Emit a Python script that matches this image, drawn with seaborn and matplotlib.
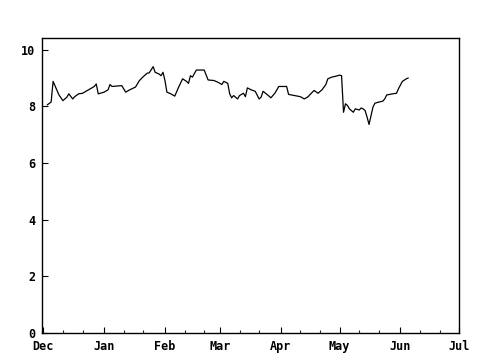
import matplotlib
matplotlib.use("Agg")
import matplotlib.pyplot as plt
import seaborn as sns
import pandas as pd

dates = [
    "2006-12-03", "2006-12-05", "2006-12-06", "2006-12-08", "2006-12-09", "2006-12-11",
    "2006-12-13", "2006-12-14", "2006-12-16", "2006-12-17", "2006-12-19", "2006-12-21",
    "2006-12-22", "2006-12-24", "2006-12-27", "2006-12-28", "2006-12-29",
    "2007-01-01", "2007-01-03", "2007-01-04", "2007-01-05", "2007-01-10", "2007-01-12",
    "2007-01-14", "2007-01-17", "2007-01-19", "2007-01-21", "2007-01-23", "2007-01-24",
    "2007-01-26", "2007-01-27", "2007-01-29", "2007-01-30", "2007-01-31",
    "2007-02-01", "2007-02-02", "2007-02-04", "2007-02-06", "2007-02-08", "2007-02-10",
    "2007-02-12", "2007-02-13", "2007-02-14", "2007-02-15", "2007-02-17", "2007-02-21",
    "2007-02-23", "2007-02-26", "2007-02-28",
    "2007-03-02", "2007-03-03", "2007-03-05", "2007-03-06", "2007-03-07", "2007-03-08",
    "2007-03-10", "2007-03-11", "2007-03-13", "2007-03-14", "2007-03-15", "2007-03-17",
    "2007-03-19", "2007-03-21", "2007-03-22", "2007-03-23", "2007-03-25", "2007-03-27",
    "2007-03-29", "2007-03-31",
    "2007-04-04", "2007-04-05", "2007-04-08", "2007-04-11", "2007-04-13", "2007-04-15",
    "2007-04-16", "2007-04-18", "2007-04-20", "2007-04-22", "2007-04-24", "2007-04-25",
    "2007-04-27", "2007-04-29",
    "2007-05-01", "2007-05-02", "2007-05-03", "2007-05-04", "2007-05-05", "2007-05-06",
    "2007-05-08", "2007-05-09", "2007-05-11", "2007-05-12", "2007-05-13", "2007-05-14",
    "2007-05-15", "2007-05-16", "2007-05-18", "2007-05-19", "2007-05-21", "2007-05-23",
    "2007-05-24", "2007-05-25", "2007-05-28", "2007-05-30", "2007-05-31",
    "2007-06-02", "2007-06-04", "2007-06-05",
]
values = [
    8.05, 8.15, 8.88, 8.56, 8.40, 8.20,
    8.32, 8.44, 8.26, 8.34, 8.44, 8.46,
    8.50, 8.58, 8.70, 8.79, 8.44,
    8.50, 8.58, 8.77, 8.70, 8.73, 8.50,
    8.58, 8.68, 8.91, 9.05, 9.17, 9.18,
    9.40, 9.20, 9.14, 9.08, 9.20,
    8.91, 8.50, 8.44, 8.36, 8.68, 8.97,
    8.88, 8.81, 9.08, 9.03, 9.28, 9.28,
    8.93, 8.91, 8.85,
    8.77, 8.88, 8.81, 8.44, 8.30, 8.38,
    8.26, 8.38, 8.46, 8.34, 8.65, 8.58,
    8.53, 8.26, 8.32, 8.53, 8.42, 8.30,
    8.46, 8.70,
    8.70, 8.42, 8.38, 8.34, 8.26, 8.34,
    8.42, 8.56, 8.46, 8.58, 8.77, 8.97,
    9.03, 9.06,
    9.10, 9.08, 7.79, 8.09, 8.03, 7.91,
    7.79, 7.91, 7.87, 7.94, 7.91, 7.85,
    7.62, 7.36, 7.97, 8.11, 8.15, 8.18,
    8.26, 8.40, 8.44, 8.46, 8.62,
    8.88, 8.97, 9.00,
]
month_labels = ["Dec", "Jan", "Feb", "Mar", "Apr", "May", "Jun", "Jul"]
y_ticks = [0, 2, 4, 6, 8, 10]

df = pd.DataFrame({"date": pd.to_datetime(dates), "value": values})

sns.set_style("ticks")
plt.rcParams["font.family"] = ["DejaVu Sans Mono", "DejaVu Sans"]
plt.rcParams["font.weight"] = "bold"

fig = plt.figure(figsize=(4.8, 3.6), dpi=100)
ax = fig.add_axes([42.3 / 480, 1 - 333 / 360, (459.3 - 42.3) / 480, (333 - 38.3) / 360])

sns.lineplot(data=df, x="date", y="value", ax=ax, color="black", linewidth=0.9, estimator=None)

ax.set_xlim(pd.Timestamp("2006-11-30 12:00"), pd.Timestamp("2007-07-01"))
ax.set_ylim(0, 10.4)
month_starts = pd.date_range("2006-12-01", "2007-07-01", freq="MS")
ax.set_xticks(month_starts)
ax.set_xticklabels(month_labels)
minor = [d + pd.Timedelta(days=k) for d in month_starts[:-1] for k in (10, 20)]
ax.set_xticks(minor, minor=True)
ax.set_yticks(y_ticks)
ax.set_yticklabels([str(v) for v in y_ticks])

ax.set_xlabel("")
ax.set_ylabel("")
for s in ax.spines.values():
    s.set_visible(True)
    s.set_color("black")
    s.set_linewidth(1.0)
ax.tick_params(axis="both", which="major", direction="in", length=4, width=0.8,
               labelsize=8.5, colors="black")
ax.tick_params(axis="x", which="minor", direction="in", length=2, width=0.8)
ax.tick_params(axis="x", which="major", pad=5)
ax.tick_params(axis="y", which="major", pad=5)
for lbl in ax.get_xticklabels() + ax.get_yticklabels():
    lbl.set_fontweight("bold")
ax.grid(False)
ax.set_facecolor("white")
fig.patch.set_facecolor("white")

fig.savefig("out.png", dpi=100)
